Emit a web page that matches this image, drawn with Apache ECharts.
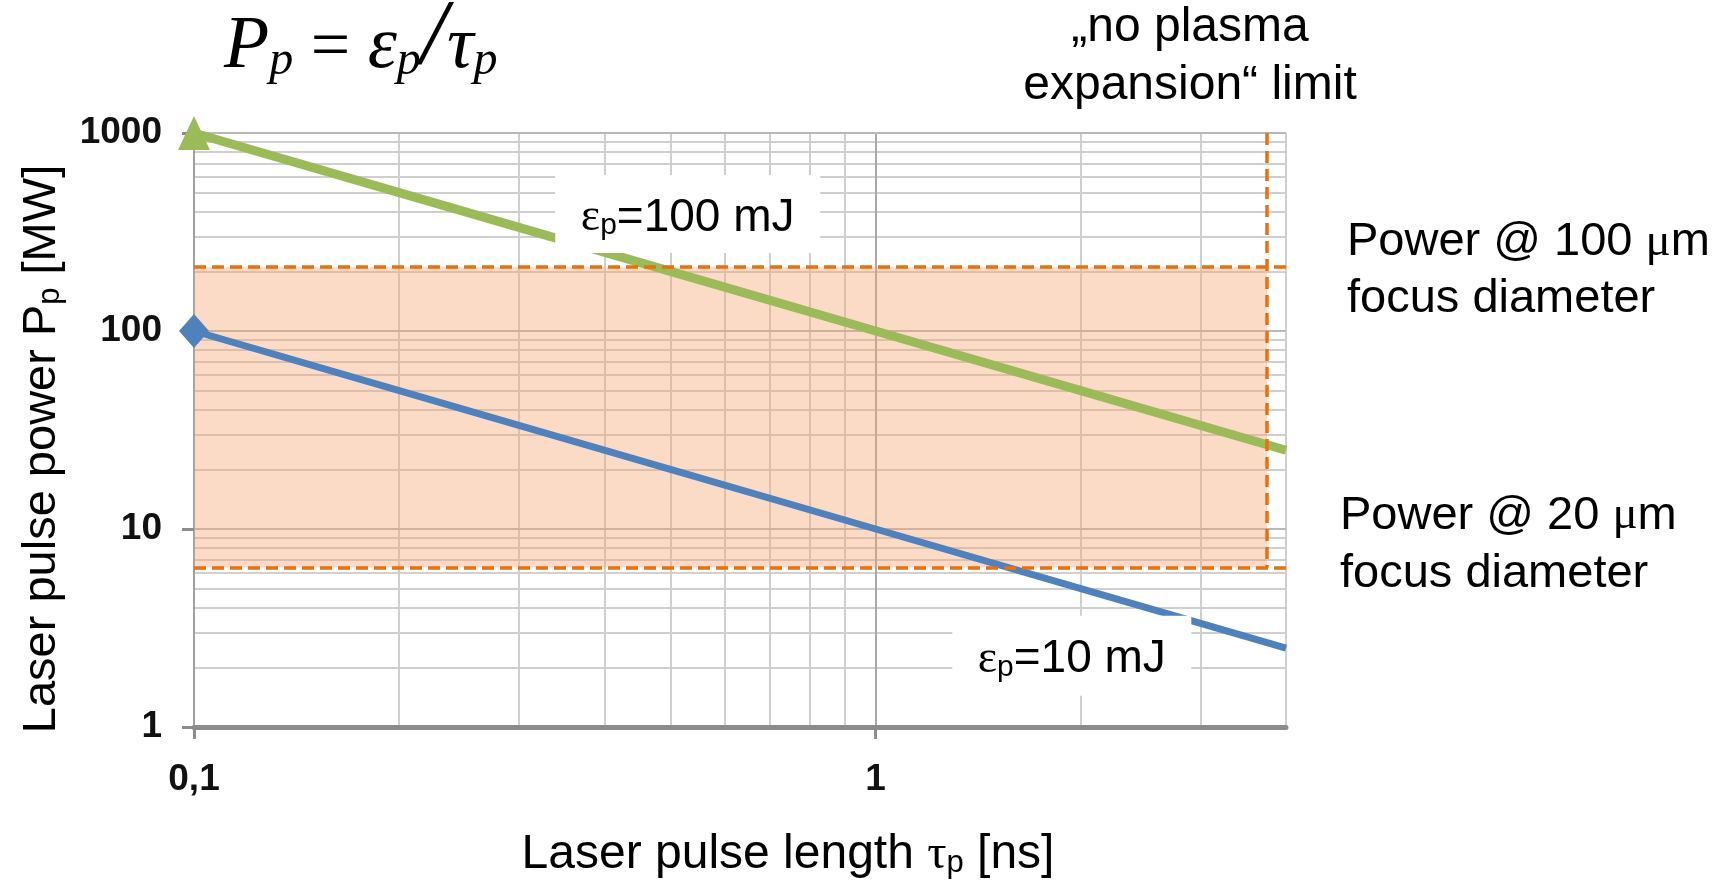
<!DOCTYPE html>
<html><head><meta charset="UTF-8">
<title>Laser pulse power vs pulse length</title>
<script src="https://cdn.jsdelivr.net/npm/echarts@6/dist/echarts.min.js"></script>
<style>html,body{margin:0;padding:0;background:#fff}#chart{width:1735px;height:884px}</style>
</head>
<body>
<div id="chart"></div>
<script>
// laser pulse length tau_p [ns]
const pulseLength = [0.1, 0.2, 0.5, 1, 2, 4];
// pulse power P_p [MW] for the two pulse energies
const power100mJ = [1000, 500, 200, 100, 50, 25];
const power10mJ = [100, 50, 20, 10, 5, 2.5];

// tick labels
const xTickLabels = [0.1, 1];
const yTickLabels = [1, 10, 100, 1000];

// log grid lines
const xMajorGrid = [1];
const xMinorGrid = [0.2, 0.3, 0.4, 0.5, 0.6, 0.7, 0.8, 0.9, 2, 3, 4];
const yMajorGrid = [10, 100, 1000];
const yMinorGrid = [2, 3, 4, 5, 6, 7, 8, 9, 20, 30, 40, 50, 60, 70, 80, 90, 200, 300, 400, 500, 600, 700, 800, 900];

// limits (orange box)
const powerAt100um = 210;
const powerAt20um = 6.4;
const noExpansionLimit = 3.75;

// where the energy labels sit
const label100mJ = [0.53, 390];
const label10mJ = [1.94, 2.29];

const chart = echarts.init(document.getElementById('chart'));

const SANS = 'Liberation Sans';
const SERIF = 'Liberation Serif';

function tickFmt(v) {
    if (Math.abs(v - 0.1) < 1e-9) return '0,1';
    return String(v);
}

function subRich(size, lh) {
    return {
        t: { fontFamily: SANS, fontSize: size, lineHeight: lh, color: '#000', verticalAlign: 'bottom' },
        g: { fontFamily: SERIF, fontSize: size, lineHeight: lh, color: '#000', verticalAlign: 'bottom' },
        s: { fontFamily: SANS, fontSize: Math.round(size * 0.65), lineHeight: Math.round(lh * 0.3), color: '#000', verticalAlign: 'bottom' }
    };
}

function lineData(vals, sym, size) {
    return pulseLength.map((t, i) => i === 0
        ? { value: [t, vals[i]], symbol: sym, symbolSize: size }
        : [t, vals[i]]);
}

const gridLines = []
    .concat(xMinorGrid.map(v => ({ xAxis: v, lineStyle: { color: '#cfcfcf', width: 2, type: 'solid' } })))
    .concat(yMinorGrid.map(v => ({ yAxis: v, lineStyle: { color: '#cfcfcf', width: 2, type: 'solid' } })))
    .concat(xMajorGrid.map(v => ({ xAxis: v, lineStyle: { color: '#a8a8a8', width: 2, type: 'solid' } })))
    .concat(yMajorGrid.map(v => ({ yAxis: v, lineStyle: { color: '#b8b8b8', width: 2, type: 'solid' } })));

const option = {
    animation: false,
    grid: { left: 194, top: 133, width: 1092, height: 599 },
    xAxis: {
        type: 'log', logBase: 10, min: 0.1, max: 4,
        name: '{t|Laser pulse length }{g|τ}{s|p}{t| [ns]}',
        nameLocation: 'middle', nameGap: 98,
        nameTextStyle: { rich: subRich(48, 54), padding: [0, 0, 0, 96] },
        axisLine: { show: true, onZero: false, lineStyle: { color: '#8c8c8c', width: 5 } },
        axisTick: { show: true, customValues: xTickLabels, length: 12, lineStyle: { color: '#8c8c8c', width: 3 } },
        axisLabel: { customValues: xTickLabels, formatter: tickFmt, margin: 34, fontSize: 37, fontWeight: 'bold', fontFamily: SANS, color: '#111' },
        splitLine: { show: false }
    },
    yAxis: {
        type: 'log', logBase: 10, min: 1, max: 1000,
        name: '{t|Laser pulse power P}{s|p}{t| [MW]}',
        nameLocation: 'middle', nameGap: 128,
        nameTextStyle: { rich: subRich(47, 54), padding: [0, 38, 0, 0] },
        axisLine: { show: true, lineStyle: { color: '#a0a0a0', width: 2 } },
        axisTick: { show: true, customValues: yTickLabels, length: 12, lineStyle: { color: '#8c8c8c', width: 3 } },
        axisLabel: { customValues: yTickLabels, formatter: tickFmt, margin: 32, fontSize: 37, fontWeight: 'bold', fontFamily: SANS, color: '#111' },
        splitLine: { show: false }
    },
    graphic: [
        {
            type: 'text', x: 224, y: 5, z: 10,
            style: {
                text: '{P|P}{s|p}{o| = }{P|ε}{s|p}{sl|/}{P|τ}{s|p}',
                rich: {
                    P: { fontFamily: SERIF, fontStyle: 'italic', fontSize: 74, lineHeight: 80, verticalAlign: 'bottom', fill: '#000' },
                    o: { fontFamily: SERIF, fontSize: 70, lineHeight: 80, verticalAlign: 'bottom', fill: '#000' },
                    sl: { fontFamily: SERIF, fontStyle: 'italic', fontSize: 94, lineHeight: 80, verticalAlign: 'bottom', fill: '#000' },
                    s: { fontFamily: SERIF, fontStyle: 'italic', fontSize: 48, lineHeight: 10, verticalAlign: 'bottom', fill: '#000' }
                }
            }
        },
        {
            type: 'text', x: 1190, y: 57, z: 10,
            style: {
                text: '„no plasma\nexpansion“ limit',
                fontFamily: SANS, fontSize: 48, lineHeight: 58,
                align: 'center', verticalAlign: 'middle', fill: '#000'
            }
        },
        {
            type: 'text', x: 1347, y: 271, z: 10,
            style: {
                text: '{t|Power @ 100 }{g|μ}{t|m}\n{t|focus diameter}',
                align: 'left', verticalAlign: 'middle',
                rich: {
                    t: { fontFamily: SANS, fontSize: 47, lineHeight: 57, fill: '#000' },
                    g: { fontFamily: SERIF, fontSize: 47, lineHeight: 57, fill: '#000' }
                }
            }
        },
        {
            type: 'text', x: 1340, y: 545, z: 10,
            style: {
                text: '{t|Power @ 20 }{g|μ}{t|m}\n{t|focus diameter}',
                align: 'left', verticalAlign: 'middle',
                rich: {
                    t: { fontFamily: SANS, fontSize: 47, lineHeight: 58, fill: '#000' },
                    g: { fontFamily: SERIF, fontSize: 47, lineHeight: 58, fill: '#000' }
                }
            }
        }
    ],
    series: [
        {
            // grid lines
            type: 'line', data: [], z: 0,
            markLine: {
                z: 0, silent: true, symbol: ['none', 'none'], label: { show: false },
                emphasis: { disabled: true },
                data: gridLines
            }
        },
        {
            name: 'ε=100 mJ', type: 'line', z: 2,
            data: lineData(power100mJ, 'triangle', [32, 34]),
            symbol: 'none', showSymbol: true,
            lineStyle: { color: '#9bbb59', width: 9 },
            itemStyle: { color: '#9bbb59' }
        },
        {
            name: 'ε=10 mJ', type: 'line', z: 2,
            data: lineData(power10mJ, 'diamond', [30, 34]),
            symbol: 'none', showSymbol: true,
            lineStyle: { color: '#4f81bd', width: 7 },
            itemStyle: { color: '#4f81bd' }
        },
        {
            // focus power window and plasma expansion limit
            type: 'line', data: [], z: 1,
            markArea: {
                z: 1, silent: true,
                itemStyle: { color: 'rgba(245,165,110,0.4)' },
                data: [[{ coord: [0.1, powerAt100um] }, { coord: [noExpansionLimit, powerAt20um] }]]
            },
            markLine: {
                z: 4, silent: true, symbol: ['none', 'none'], label: { show: false },
                lineStyle: { color: '#e8700e', width: 3.5, type: [12, 6] },
                data: [
                    [{ coord: [0.1, powerAt100um] }, { coord: [4, powerAt100um] }],
                    [{ coord: [0.1, powerAt20um] }, { coord: [4, powerAt20um] }],
                    [{ coord: [noExpansionLimit, 1000] }, { coord: [noExpansionLimit, powerAt20um] }]
                ]
            }
        },
        {
            // energy labels in white boxes
            type: 'scatter', z: 6, silent: true,
            symbol: 'rect',
            itemStyle: { color: '#fff', opacity: 1 },
            label: {
                show: true, position: 'inside',
                formatter: p => p.data.text,
                rich: subRich(46, 54)
            },
            data: [
                { value: label100mJ, symbolSize: [265, 78], text: '{g|ε}{s|p}{t|=100 mJ}' },
                { value: label10mJ, symbolSize: [239, 80], text: '{g|ε}{s|p}{t|=10 mJ}' }
            ]
        }
    ]
};

chart.setOption(option);
</script>
</body></html>
